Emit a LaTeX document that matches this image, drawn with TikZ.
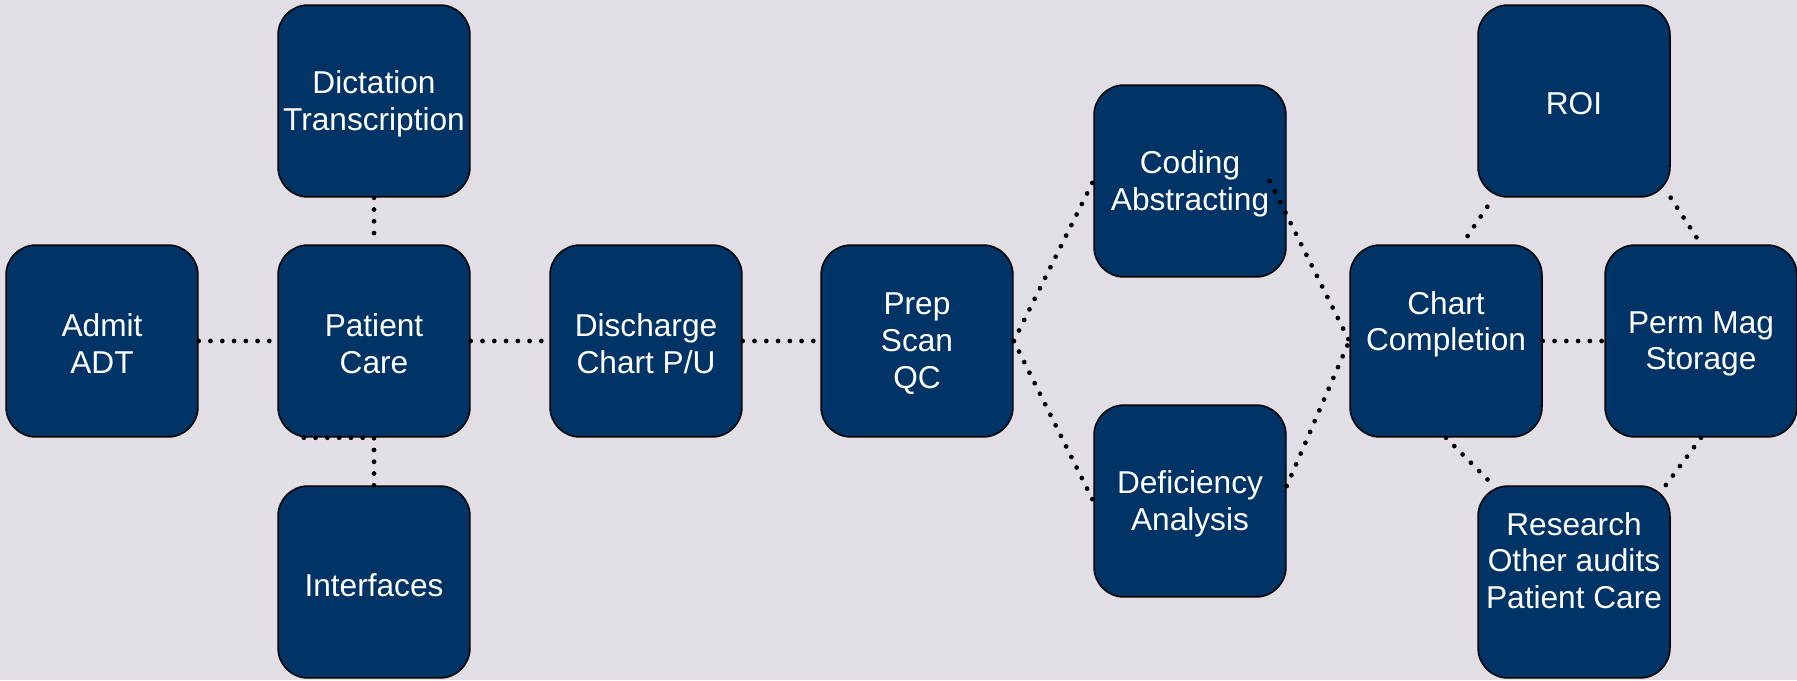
\documentclass[tikz,border=0pt]{standalone}
\usepackage{fontspec}
\setmainfont{Liberation Sans}
\usetikzlibrary{calc}
\definecolor{navy}{RGB}{0,51,102}
\definecolor{paper}{RGB}{225,222,229}
\tikzset{
  stage/.style={draw=black,line width=0.85pt,fill=navy,rounded corners=0.6cm,
    minimum width=3.84cm,minimum height=3.84cm,inner sep=0pt},
  stagetext/.style={text=white,align=center,inner sep=0pt,
    font=\fontsize{18}{20.9}\selectfont},
  link/.style={line width=2.7pt,line cap=round,dash pattern=on 0pt off 6.7pt}
}
\begin{document}
\begin{tikzpicture}[x=0.02cm,y=-0.02cm]
\fill[paper] (0,0) rectangle (1797,680);
\useasboundingbox (0,0) rectangle (1797,680);
% the boxes, centres in px from the top left
\foreach \n/\x/\y/\t in {admit/102/341/{Admit\\ADT}, care/374/341/{Patient\\Care},
    dict/374/101/{Dictation\\Transcription}, inter/374/582/{Interfaces},
    disch/646/341/{Discharge\\Chart P/U}, prep/917/341/{Prep\\Scan\\QC},
    coding/1190/181/{Coding\\Abstracting}, defic/1190/501/{Deficiency\\Analysis},
    chart/1446/341/{Chart\\Completion\\[5pt]\mbox{}}, perm/1701/341/{Perm Mag\\Storage},
    roi/1574/101/{ROI}, research/1574/582/{Research\\Other audits\\Patient Care\\[7pt]\mbox{}}}{
  \node[stage] (\n) at (\x,\y) {};
  \node[stagetext] (\n-txt) at ([yshift=-1.6pt]\n.center) {\t};
}
% dotted links
\draw[link] (admit) -- (care);
\draw[link] (dict) -- (care);
\draw[link] (inter.north) -- (care.south) -- ++(-81,0);
\draw[link] (care) -- (disch);
\draw[link] (disch) -- (prep);
\draw[link] (prep.east) -- (coding.west);
\draw[link] (prep.east) -- (defic.west);
\draw[link] ($(coding.east)+(-17,0)$) -- (chart.west);
\draw[link] ($(defic.east)+(0,-15)$) -- (chart.west);
\draw[link] ($(roi.south west)+(10,9)$) -- ($(chart.north)+(16,0)$);
\draw[link] (roi.south east) -- (perm.north);
\draw[link] (chart) -- (perm);
\draw[link] (chart.south) -- ($(research.north west)+(17,1)$);
\draw[link] (perm.south) -- ($(research.north east)+(-11,8)$);
\end{tikzpicture}
\end{document}
